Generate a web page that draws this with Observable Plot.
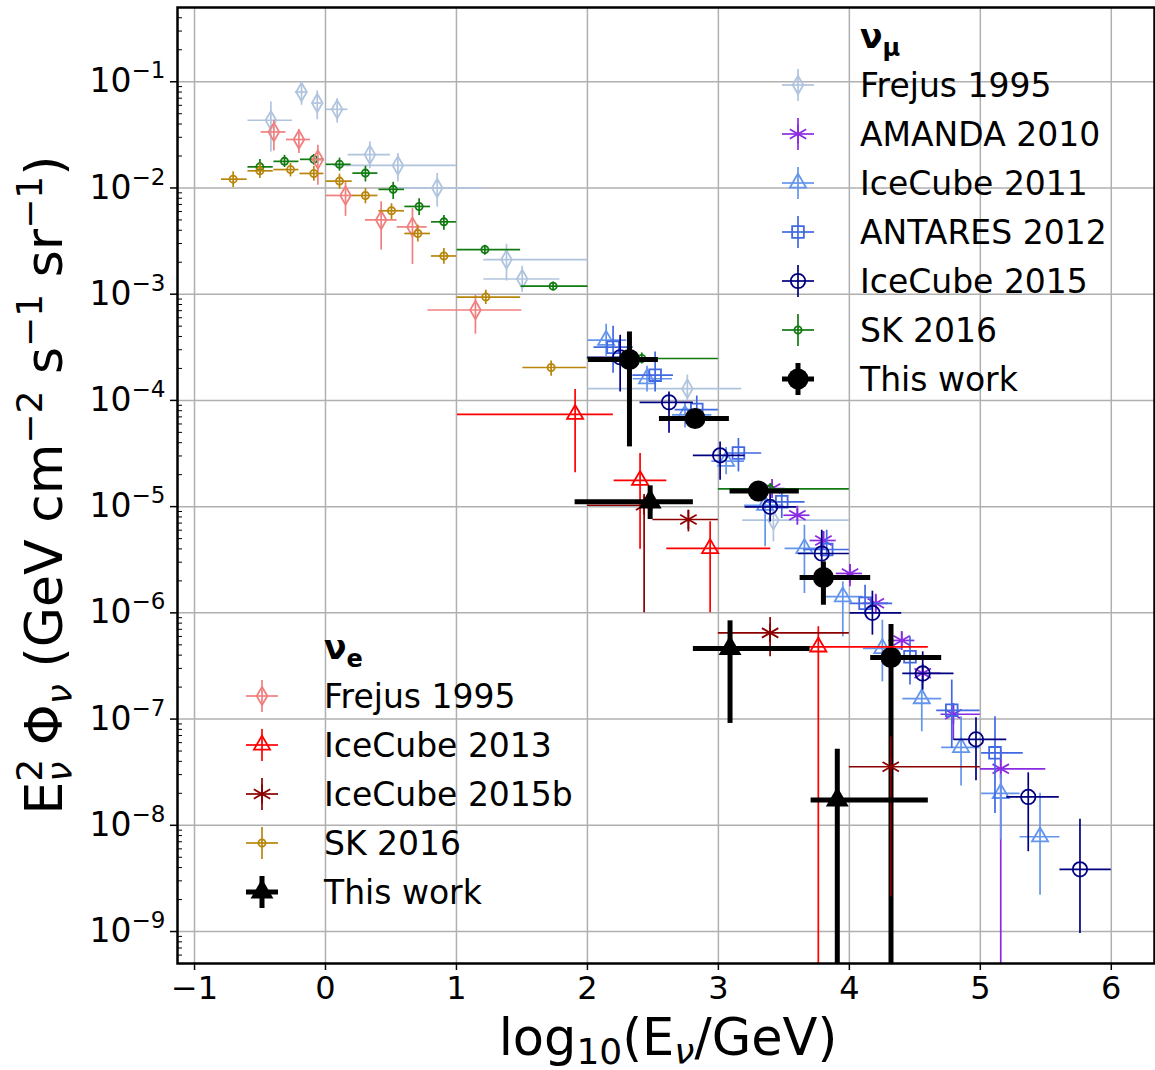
<!DOCTYPE html>
<html><head><meta charset="utf-8">
<script src="https://cdn.jsdelivr.net/npm/d3@7"></script>
<script src="https://cdn.jsdelivr.net/npm/@observablehq/plot@0.6"></script>
<style>
html,body{margin:0;padding:0;background:#fff;overflow:hidden;}
svg{display:block}
</style></head><body><div id="chart"></div>
<script>
// Each row: [log10(E/GeV), low edge, high edge, E^2 Phi, lower error end, upper error end]
// ---- nu_mu ----
const frejusMu = [
  [-0.417,-0.592,-0.252,4.34e-2,2.18e-2,6.44e-2],
  [-0.183,-0.23,-0.14,8.0e-2,6.0e-2,9.9e-2],
  [-0.063,-0.10,-0.03,6.3e-2,4.4e-2,8.2e-2],
  [0.089,0.005,0.171,5.5e-2,4.1e-2,6.9e-2],
  [0.339,0.173,0.496,2.06e-2,1.52e-2,2.71e-2],
  [0.553,0.064,1.0,1.63e-2,1.14e-2,2.11e-2],
  [0.853,0.547,1.203,1.0e-2,6.6e-3,1.37e-2],
  [1.382,1.209,2.005,2.12e-3,1.33e-3,2.95e-3],
  [1.502,1.209,1.79,1.39e-3,1.04e-3,1.83e-3],
  [2.763,2.008,3.179,1.29e-4,1.0e-4,1.73e-4],
  [3.42,3.186,4.0,7.45e-6,4.66e-6,9.27e-6]
];
const amanda2010 = [
  [3.41,3.31,3.51,1.48e-5,1.3e-5,1.7e-5],
  [3.603,3.5,3.7,8.3e-6,7.3e-6,9.5e-6],
  [3.802,3.7,3.9,4.8e-6,4.0e-6,5.8e-6],
  [4.005,3.9,4.1,2.35e-6,1.76e-6,2.81e-6],
  [4.202,4.1,4.3,1.23e-6,1.05e-6,1.45e-6],
  [4.4,4.3,4.5,5.5e-7,4.6e-7,6.5e-7],
  [4.56,4.5,4.7,2.7e-7,2.2e-7,3.2e-7],
  [4.794,4.7,5.0,1.11e-7,6.3e-8,1.4e-7],
  [5.156,5.0,5.5,3.4e-8,1e-12,5.0e-8]
];
const icecube2011 = [
  [2.143,2.005,2.30,3.69e-4,2.6e-4,5.2e-4],
  [2.455,2.35,2.65,1.6e-4,1.2e-4,2.1e-4],
  [2.745,2.65,2.95,7.3e-5,5.5e-5,9.5e-5],
  [3.059,2.95,3.2,2.68e-5,2.0e-5,3.6e-5],
  [3.357,3.2,3.5,1.03e-5,4.2e-6,1.34e-5],
  [3.657,3.509,3.807,4.04e-6,1.52e-6,6.68e-6],
  [3.95,3.822,4.107,1.42e-6,5.94e-7,1.96e-6],
  [4.252,4.107,4.4,4.62e-7,2.24e-7,8.53e-7],
  [4.553,4.408,4.705,1.56e-7,7.59e-8,2.33e-7],
  [4.853,4.705,4.998,5.41e-8,2.34e-8,1.05e-7],
  [5.156,5.01,5.303,2.0e-8,7.26e-9,3.0e-8],
  [5.456,5.303,5.608,7.8e-9,2.2e-9,2.0e-8]
];
const antares2012 = [
  [2.196,2.05,2.35,3.17e-4,1.8e-4,5.0e-4],
  [2.517,2.347,2.657,1.73e-4,1.2e-4,2.86e-4],
  [2.835,2.67,3.0,8.2e-5,6.0e-5,1.1e-4],
  [3.153,3.064,3.331,3.2e-5,2.12e-5,4.38e-5],
  [3.484,3.357,3.662,1.11e-5,7.75e-6,1.38e-5],
  [3.827,3.65,4.0,3.95e-6,3.37e-6,6.0e-6],
  [4.12,4.005,4.331,1.23e-6,9.5e-7,1.82e-6],
  [4.463,4.336,4.616,3.86e-7,2.09e-7,5.94e-7],
  [4.782,4.667,4.998,1.21e-7,5.3e-8,2.33e-7],
  [5.112,5.01,5.328,4.81e-8,1.29e-8,1.05e-7]
];
const icecube2015 = [
  [2.25,2.0,2.4,2.55e-4,1.2e-4,4.1e-4],
  [2.623,2.402,2.809,9.6e-5,4.9e-5,1.2e-4],
  [3.013,2.809,3.204,3.04e-5,1.77e-5,4.07e-5],
  [3.395,3.204,3.598,9.95e-6,7.18e-6,1.33e-5],
  [3.789,3.611,4.0,3.62e-6,2.52e-6,6.0e-6],
  [4.176,4.005,4.4,1.0e-6,6.17e-7,1.6e-6],
  [4.56,4.408,4.799,2.69e-7,1.87e-7,4.3e-7],
  [4.967,4.799,5.202,6.44e-8,2.62e-8,1.03e-7],
  [5.366,5.202,5.603,1.85e-8,5.64e-9,3.12e-8],
  [5.761,5.608,6.0,3.85e-9,9.6e-10,1.14e-8]
];
const sk2016Mu = [
  [-0.501,-0.592,-0.399,1.58e-2,1.32e-2,1.85e-2],
  [-0.313,-0.394,-0.203,1.78e-2,1.56e-2,2.03e-2],
  [-0.089,-0.191,-0.012,1.86e-2,1.64e-2,2.07e-2],
  [0.107,0.005,0.196,1.67e-2,1.44e-2,1.91e-2],
  [0.305,0.209,0.4,1.38e-2,1.14e-2,1.6e-2],
  [0.517,0.408,0.603,9.7e-3,7.8e-3,1.13e-2],
  [0.715,0.606,0.802,6.7e-3,5.5e-3,7.9e-3],
  [0.904,0.809,1.0,4.8e-3,4.0e-3,5.5e-3],
  [1.217,1.005,1.49,2.63e-3,2.33e-3,2.89e-3],
  [1.738,1.494,2.005,1.19e-3,1.08e-3,1.3e-3],
  [2.415,2.0,3.0,2.48e-4,2.2e-4,2.8e-4],
  [3.395,3.0,4.0,1.47e-5,1.3e-5,1.65e-5]
];
const thisWorkMu = [
  [2.321,2.008,2.542,2.43e-4,3.65e-5,4.41e-4],
  [2.822,2.55,3.084,6.76e-5,5.8e-5,7.8e-5],
  [3.305,3.089,3.618,1.4e-5,1.2e-5,1.6e-5],
  [3.802,3.624,4.163,2.15e-6,1.18e-6,3.02e-6],
  [4.318,4.163,4.705,3.8e-7,1e-12,7.78e-7]
];
// ---- nu_e ----
const frejusE = [
  [-0.394,-0.491,-0.302,3.37e-2,2.23e-2,4.34e-2],
  [-0.203,-0.298,-0.115,2.86e-2,2.11e-2,3.55e-2],
  [-0.058,-0.102,-0.012,1.85e-2,1.06e-2,2.52e-2],
  [0.153,0.005,0.217,8.5e-3,5.4e-3,1.14e-2],
  [0.425,0.305,0.547,5.0e-3,2.6e-3,7.4e-3],
  [0.664,0.547,0.776,4.3e-3,1.9e-3,6.4e-3],
  [1.145,0.782,1.5,7.1e-4,4.2e-4,9.8e-4]
];
const icecube2013 = [
  [1.906,1.008,2.198,7.4e-5,2.09e-5,1.27e-4],
  [2.402,2.204,2.606,1.77e-5,3.96e-6,3.16e-5],
  [2.937,2.606,3.4,4.04e-6,1.0e-6,7.2e-6],
  [3.763,3.4,4.603,4.79e-7,1e-12,7.38e-7]
];
const icecube2015b = [
  [2.433,2.0,2.5,1.03e-5,1.0e-6,1.3e-5],
  [2.771,2.5,3.0,7.57e-6,5.78e-6,9.27e-6],
  [3.395,3.0,4.0,6.48e-7,3.86e-7,9.06e-7],
  [4.316,4.0,5.0,3.56e-8,2.12e-9,6.8e-8]
];
const sk2016E = [
  [-0.705,-0.794,-0.598,1.21e-2,1.01e-2,1.42e-2],
  [-0.501,-0.592,-0.399,1.45e-2,1.23e-2,1.70e-2],
  [-0.267,-0.394,-0.203,1.49e-2,1.27e-2,1.70e-2],
  [-0.089,-0.195,-0.012,1.37e-2,1.16e-2,1.60e-2],
  [0.107,0.005,0.204,1.16e-2,9.7e-3,1.35e-2],
  [0.305,0.209,0.4,8.5e-3,7.1e-3,9.9e-3],
  [0.504,0.408,0.603,6.1e-3,5.05e-3,7.1e-3],
  [0.705,0.606,0.802,3.73e-3,3.1e-3,4.46e-3],
  [0.904,0.809,1.0,2.29e-3,1.91e-3,2.69e-3],
  [1.224,1.005,1.49,9.4e-4,8.0e-4,1.09e-3],
  [1.723,1.507,1.995,2.04e-4,1.69e-4,2.35e-4]
];
const thisWorkE = [
  [2.479,1.906,2.809,1.11e-5,7.57e-6,1.57e-5],
  [3.089,2.809,3.7,4.62e-7,9.1e-8,8.41e-7],
  [3.908,3.708,4.603,1.73e-8,1e-12,5.21e-8]
];

const xTicks = [-1,0,1,2,3,4,5,6];
const yTicks = [1e-9,1e-8,1e-7,1e-6,1e-5,1e-4,1e-3,1e-2,1e-1];
const xLabelParts = ["log", "10", "(E", "ν", "/GeV)"];
const muHeader = ["ν", "μ"];
const eHeader = ["ν", "e"];

const muSeries = [
  {label:"Frejus 1995", rows:frejusMu, color:"#b0c4de", symbol:"diamond", r:5.6, lw:1.7},
  {label:"AMANDA 2010", rows:amanda2010, color:"#8a2be2", symbol:"asterisk", r:9, lw:1.7},
  {label:"IceCube 2011", rows:icecube2011, color:"#6495ed", symbol:"triangle", r:6, lw:1.7},
  {label:"ANTARES 2012", rows:antares2012, color:"#4169e1", symbol:"square", r:6.6, lw:1.7},
  {label:"IceCube 2015", rows:icecube2015, color:"#000080", symbol:"circle", r:7.2, lw:1.7},
  {label:"SK 2016", rows:sk2016Mu, color:"#117a11", symbol:"circle", r:3.6, lw:1.7},
  {label:"This work", rows:thisWorkMu, color:"#000000", symbol:"circle", r:10.5, lw:5, filled:true}
];
const eSeries = [
  {label:"Frejus 1995", rows:frejusE, color:"#f08080", symbol:"diamond", r:5.6, lw:1.7},
  {label:"IceCube 2013", rows:icecube2013, color:"#ff0000", symbol:"triangle", r:6, lw:1.7},
  {label:"IceCube 2015b", rows:icecube2015b, color:"#8b0000", symbol:"asterisk", r:9, lw:1.7},
  {label:"SK 2016", rows:sk2016E, color:"#b8860b", symbol:"circle", r:3.6, lw:1.7},
  {label:"This work", rows:thisWorkE, color:"#000000", symbol:"triangle", r:8.5, lw:5, filled:true}
];

function seriesMarks(s){
  const data = s.rows.map(([x,xlo,xhi,y,ylo,yhi])=>({x,xlo,xhi,y,ylo,yhi}));
  return [
    Plot.ruleY(data,{y:"y",x1:"xlo",x2:"xhi",stroke:s.color,strokeWidth:s.lw}),
    Plot.ruleX(data,{x:"x",y1:"ylo",y2:"yhi",stroke:s.color,strokeWidth:s.lw}),
    Plot.dot(data,{x:"x",y:"y",symbol:s.symbol,r:s.r,
      stroke:s.filled?"none":s.color, fill:s.filled?s.color:"none", strokeWidth:1.8})
  ];
}

const minorY = [];
for (let d=-10; d<=-1; d++) for (let k=2;k<=9;k++){ const v=k*Math.pow(10,d); if (v>5e-10 && v<0.5) minorY.push(v); }

const plot = Plot.plot({
  width:1155, height:1070,
  marginLeft:177, marginRight:1, marginTop:7, marginBottom:107,
  x:{domain:[-1.13,6.33]},
  y:{type:"log", domain:[5e-10,0.5], clamp:true},
  style:{fontFamily:"DejaVu Sans", background:"white", color:"black", overflow:"visible"},
  marks:[
    Plot.gridX({ticks:xTicks, stroke:"#b0b0b0", strokeOpacity:1, strokeWidth:1.5}),
    Plot.gridY({ticks:yTicks, stroke:"#b0b0b0", strokeOpacity:1, strokeWidth:1.5}),
    ...muSeries.flatMap(seriesMarks),
    ...eSeries.flatMap(seriesMarks),
    Plot.axisX({ticks:xTicks, tickSize:7, tickPadding:6, fontSize:32, label:null, strokeWidth:1.5}),
    Plot.axisY({ticks:yTicks, tickSize:7, tickPadding:5, fontSize:33, label:null, strokeWidth:1.5,
      tickFormat:d=>String(Math.round(Math.log10(d))).replace("-","−")}),
    Plot.axisY({ticks:minorY, tickSize:5, dx:5, tickFormat:()=>"", label:null, strokeWidth:1}),
    Plot.frame({stroke:"black", strokeWidth:2.5})
  ]
});
document.getElementById("chart").appendChild(plot);

const svg = d3.select(plot);
// y tick labels as 10^n
svg.selectAll('g[aria-label="y-axis tick label"] text').each(function(){
  const e = this.textContent;
  if (!e) return;
  const t = d3.select(this); t.text(null);
  t.append("tspan").text("10");
  t.append("tspan").attr("dy",-14).attr("font-size",23).text(e);
});

// axis titles
const xl = svg.append("text").attr("x",668).attr("y",1055).attr("text-anchor","middle")
  .attr("font-size",51).attr("font-family","DejaVu Sans").attr("fill","black");
xl.append("tspan").text(xLabelParts[0]);
xl.append("tspan").attr("font-size",36).attr("dy",9).text(xLabelParts[1]);
xl.append("tspan").attr("dy",-9).text(xLabelParts[2]);
xl.append("tspan").attr("font-size",36).attr("dy",9).attr("font-style","italic").text(xLabelParts[3]);
xl.append("tspan").attr("dy",-9).text(xLabelParts[4]);

const yl = svg.append("text").attr("transform","translate(62,485) rotate(-90)").attr("text-anchor","middle")
  .attr("font-size",52).attr("font-family","DejaVu Sans").attr("fill","black");
yl.append("tspan").text("E");
yl.append("tspan").attr("font-size",36).attr("dy",-20).text("2");
yl.append("tspan").attr("font-size",36).attr("dy",30).attr("dx",-23).attr("font-style","italic").text("ν");
yl.append("tspan").attr("dy",-10).text(" Φ");
yl.append("tspan").attr("font-size",36).attr("dy",10).attr("font-style","italic").text("ν");
yl.append("tspan").attr("dy",-10).text(" (GeV cm");
yl.append("tspan").attr("font-size",36).attr("dy",-20).text("−2");
yl.append("tspan").attr("dy",20).text(" s");
yl.append("tspan").attr("font-size",36).attr("dy",-20).text("−1");
yl.append("tspan").attr("dy",20).text(" sr");
yl.append("tspan").attr("font-size",36).attr("dy",-20).text("−1");
yl.append("tspan").attr("dy",20).text(")");

// legends
const symbolTypes = {diamond:d3.symbolDiamond, asterisk:d3.symbolAsterisk, triangle:d3.symbolTriangle, square:d3.symbolSquare, circle:d3.symbolCircle};
function drawLegend(cx, tx, y0, step, header, items){
  const g = svg.append("g").attr("font-family","DejaVu Sans").attr("text-anchor","start");
  const h = g.append("text").attr("x",tx).attr("y",y0).attr("dy","0.35em").attr("font-size",33).attr("font-weight","bold").attr("text-anchor","start");
  h.append("tspan").text(header[0]);
  h.append("tspan").attr("font-size",24).attr("dy",8).text(header[1]);
  items.forEach((s,i)=>{
    const cy = y0 + step*(i+1);
    g.append("line").attr("x1",cx-16).attr("x2",cx+16).attr("y1",cy).attr("y2",cy).attr("stroke",s.color).attr("stroke-width",s.lw);
    g.append("line").attr("x1",cx).attr("x2",cx).attr("y1",cy-16).attr("y2",cy+16).attr("stroke",s.color).attr("stroke-width",s.lw);
    g.append("path").attr("transform",`translate(${cx},${cy})`)
      .attr("d", d3.symbol(symbolTypes[s.symbol], Math.PI*s.r*s.r)())
      .attr("fill", s.filled?s.color:"none").attr("stroke", s.filled?"none":s.color).attr("stroke-width",1.8);
    g.append("text").attr("x",tx).attr("y",cy).attr("dy","0.35em").attr("font-size",33).attr("text-anchor","start").attr("fill","black").text(s.label);
  });
}
drawLegend(798, 860, 36, 49, muHeader, muSeries);
drawLegend(262, 324, 647, 49, eHeader, eSeries);
</script></body></html>
